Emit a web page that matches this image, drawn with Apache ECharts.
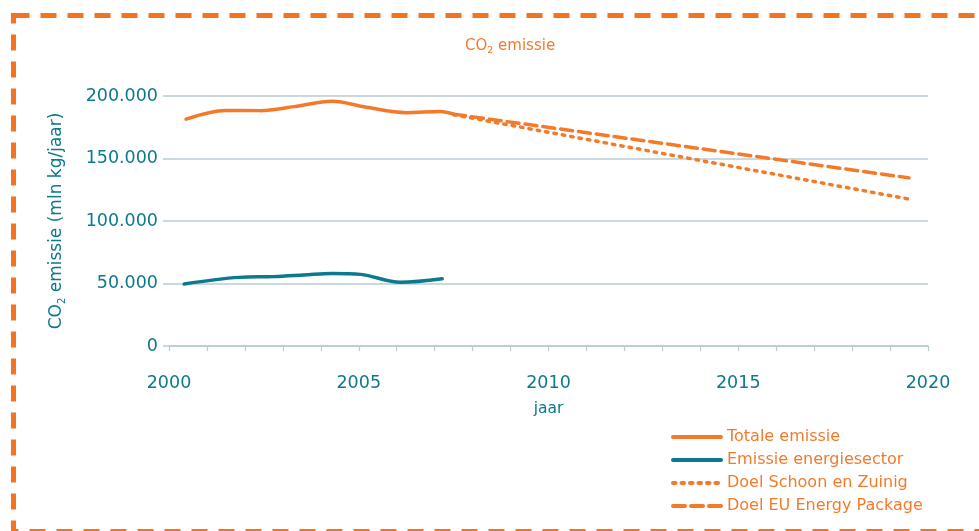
<!DOCTYPE html>
<html>
<head>
<meta charset="utf-8">
<script src="https://cdn.jsdelivr.net/npm/echarts@6/dist/echarts.min.js"></script>
<style>html,body{margin:0;padding:0;background:#fff}#c{width:979px;height:531px}</style>
</head>
<body>
<div id="c"></div>
<script>
// Data
var totaalJaar = [2000.45, 2001.5, 2002.4, 2003.3, 2004.3, 2005.2, 2006.25, 2007.15, 2007.5];
var totaalWaarde = [181500, 188500, 188300, 191500, 195800, 191000, 186700, 187700, 185500];
var energieJaar = [2000.4, 2001.85, 2002.75, 2003.55, 2004.3, 2005.05, 2006.1, 2007.2];
var energieWaarde = [49600, 54900, 55500, 56800, 58100, 57300, 51000, 53800];
var schoonJaar = [2007.5, 2019.5];
var schoonWaarde = [185000, 117500];
var euJaar = [2007.5, 2019.5];
var euWaarde = [185500, 134500];
var yTicks = [0, 50000, 100000, 150000, 200000];
var xLabels = [2000, 2005, 2010, 2015, 2020];
var names = ['Totale emissie', 'Emissie energiesector', 'Doel Schoon en Zuinig', 'Doel EU Energy Package'];

function pairs(xs, ys) { return xs.map(function (x, i) { return [x, ys[i]]; }); }

var ORANGE = '#f47a2a';
var TEAL = '#0b7a8b';
var GRID = '#b8cbd5';
var FONT = 'DejaVu Sans';

var chart = echarts.init(document.getElementById('c'), null, { renderer: 'canvas' });
chart.setOption({
  animation: false,
  textStyle: { fontFamily: FONT },
  title: {
    text: '{a|CO}{b|2}{a| emissie}',
    left: 460, top: 31,
    textStyle: {
      fontWeight: 'normal',
      rich: {
        a: { fontFamily: FONT, fontSize: 15, fontWeight: 'normal', color: ORANGE },
        b: { fontFamily: FONT, fontSize: 9.5, fontWeight: 'normal', color: ORANGE, padding: [10, 0, 0, 0] }
      }
    }
  },
  graphic: [{
    type: 'rect',
    shape: { x: 13.5, y: 15.5, width: 1000, height: 516 },
    style: { fill: 'none', stroke: '#f47321', lineWidth: 5, lineDash: [16, 11] },
    silent: true
  }],
  grid: { left: 169, right: 51, top: 96, bottom: 185 },
  legend: {
    orient: 'vertical', left: 666, top: 424,
    itemWidth: 48, itemHeight: 14, itemGap: 7,
    data: names,
    itemStyle: { opacity: 0 },
    lineStyle: { width: 4 },
    textStyle: { color: ORANGE, fontSize: 16, fontFamily: FONT, padding: [0, 0, 0, 1] }
  },
  xAxis: {
    type: 'value', min: 2000, max: 2020, interval: 1,
    name: 'jaar', nameLocation: 'middle', nameGap: 55,
    nameTextStyle: { color: TEAL, fontSize: 15.5, fontFamily: FONT },
    axisLine: { show: true, lineStyle: { color: GRID, width: 1.5 } },
    axisTick: { show: true, length: 5, lineStyle: { color: GRID, width: 1.2 } },
    splitLine: { show: false },
    axisLabel: {
      color: TEAL, fontSize: 17.5, fontFamily: FONT, margin: 28,
      formatter: function (v) { return xLabels.indexOf(v) >= 0 ? String(v) : ''; }
    }
  },
  yAxis: {
    type: 'value', min: yTicks[0], max: yTicks[yTicks.length - 1], interval: 50000,
    name: '{a|CO}{b|2}{a| emissie (mln kg/jaar)}',
    nameLocation: 'middle', nameGap: 102,
    nameTextStyle: {
      rich: {
        a: { fontFamily: FONT, fontSize: 17, color: TEAL },
        b: { fontFamily: FONT, fontSize: 10, color: TEAL, padding: [10, 0, 0, 0] }
      }
    },
    axisLine: { show: false },
    axisTick: { show: true, length: 6, lineStyle: { color: GRID, width: 1.5 } },
    splitLine: { lineStyle: { color: GRID, width: 1.5 } },
    axisLabel: {
      color: TEAL, fontSize: 17.5, fontFamily: FONT, margin: 11,
      formatter: function (v) { return v === 0 ? '0' : (v / 1000) + '.000'; }
    }
  },
  series: [
    {
      name: names[0], type: 'line', data: pairs(totaalJaar, totaalWaarde),
      smooth: 0.35, symbol: 'none', color: ORANGE,
      lineStyle: { color: ORANGE, width: 3.5, cap: 'round' }
    },
    {
      name: names[1], type: 'line', data: pairs(energieJaar, energieWaarde),
      smooth: 0.35, symbol: 'none', color: TEAL,
      lineStyle: { color: TEAL, width: 3.5, cap: 'round' }
    },
    {
      name: names[2], type: 'line', data: pairs(schoonJaar, schoonWaarde),
      symbol: 'none', color: ORANGE,
      lineStyle: { color: ORANGE, width: 3.5, type: [2.5, 6], cap: 'round' }
    },
    {
      name: names[3], type: 'line', data: pairs(euJaar, euWaarde),
      symbol: 'none', color: ORANGE,
      lineStyle: { color: ORANGE, width: 3.5, type: [12, 6], cap: 'round' }
    }
  ]
});
</script>
</body>
</html>
